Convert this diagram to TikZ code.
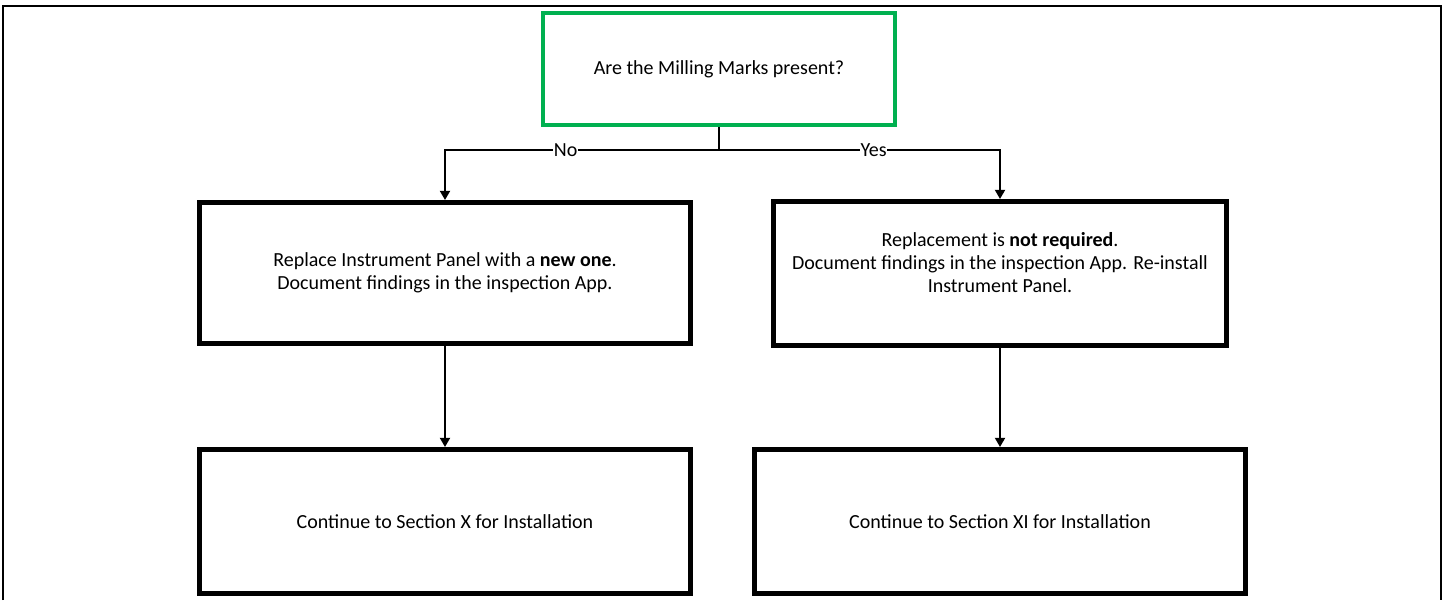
\documentclass[tikz,border=0pt]{standalone}
\usepackage{fontspec}
\setmainfont{Carlito}
\usepackage{xcolor}
\usepackage{tikz}
\usetikzlibrary{arrows.meta}
\usetikzlibrary{positioning}
\definecolor{markgreen}{RGB}{0,176,80}

\begin{document}
\begin{tikzpicture}[
        x=0.6pt, y=-0.6pt,
        font=\fontsize{12pt}{13.8pt}\selectfont,
        frame/.style={draw, line width=1.2pt},
        question/.style={draw=markgreen, line width=2.4pt, align=center, inner sep=0pt},
        stepbox/.style={draw, line width=3pt, align=center, inner sep=0pt,
            minimum width=491*0.6pt, minimum height=144*0.6pt},
        flow/.style={-{Triangle[width=6pt, length=5.5pt]}, line width=1.2pt},
        answer/.style={fill=white, inner sep=0.5pt}
    ]

    \useasboundingbox (0,0) rectangle (1445,600);

    % outer frame
    \draw[frame] (3,600) -- (3,6) -- (1441,6) -- (1441,600);

    %=== Boxes ===%
    \node[question, minimum width=352*0.6pt, minimum height=112*0.6pt] (marks) at (719,69)
        {Are the Milling Marks present?};

    \node[stepbox, minimum height=141*0.6pt] (replace) at (445,273)
        {Replace Instrument Panel with a \textbf{new one}.\\
         Document findings in the inspection App.};

    \node[stepbox, minimum width=453*0.6pt] (keep) at (1000,273.5)
        {Replacement is \textbf{not required}.\\
         Document findings in the inspection App. Re-install\\
         Instrument Panel.\\ ~};

    \node[stepbox] (sectionx) at (445,521.5)
        {Continue to Section X for Installation};

    \node[stepbox] (sectionxi) at (1000,521.5)
        {Continue to Section XI for Installation};

    %=== Connectors ===%
    \coordinate (split) at (719,150);

    \draw[line width=1.2pt] (marks.south) -- (split);
    \draw[flow] (split) -| node[answer, pos=0.28] {No} (replace.north);
    \draw[flow] (split) -| node[answer, pos=0.275] {Yes} (keep.north);
    \draw[flow] (replace.south) -- (sectionx.north);
    \draw[flow] (keep.south) -- (sectionxi.north);
\end{tikzpicture}
\end{document}
